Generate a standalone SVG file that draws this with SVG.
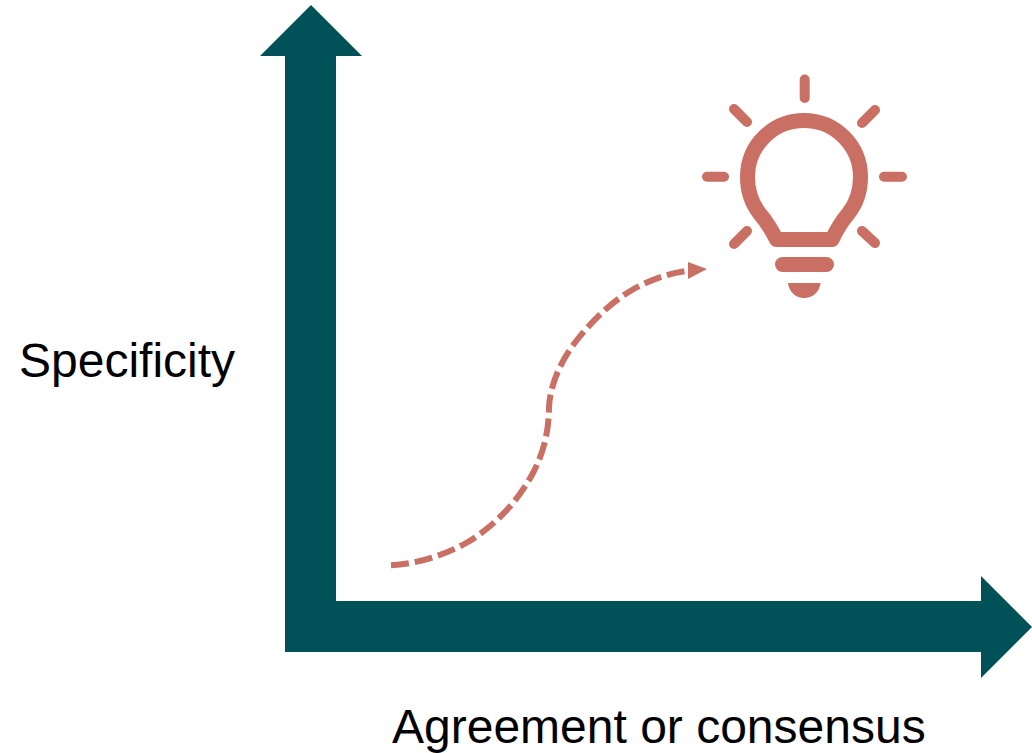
<svg xmlns="http://www.w3.org/2000/svg" width="1032" height="753" viewBox="0 0 1032 753">
<style>
.ax{fill:#005158}
.lb{font-family:"Liberation Sans",Arial,sans-serif;font-size:48px;fill:#000}
.ic{fill:none;stroke:#c96f63;stroke-linecap:round;stroke-linejoin:round}
</style>
<rect width="1032" height="753" fill="#fff"/>
<g id="connectors">
<path class="ax" d="M285 652V56H260L311 5L362 56H336V601H981V576L1032 627L981 678V652Z"/>
<path d="M391 565.300C417 564 445 555 468 542C494 526 517 503 533 473C543 454 549 432 549 407C550 385 561 360 577 340C592 321 610 303 632 290C650 280 668 273 690 270.500" fill="none" stroke="#c96f63" stroke-width="6" stroke-dasharray="18 6"/>
<path d="M707 269L688 262V279Z" fill="#c96f63"/>
</g>
<g id="bulb">
<path class="ic" stroke-width="15" d="M776.500 239.500C771 229 767 222 760 214C752 204 747.500 192 747.500 177C747.500 146 772.500 120.500 804 120.500C835.500 120.500 860.500 146 860.500 177C860.500 192 856 204 848 214C841 222 837 229 832 239.500Z"/>
<path class="ic" stroke-width="10" d="M804.700 79.500V98M734 109L747 122M875 110L862 123M707 176.700H724M884 176.700H902M747 231L734 244M862 231L875 243"/>
<path class="ic" stroke-width="15" d="M782.500 264.500H826.500"/>
<path d="M788 283H820.500C819.500 292 812.500 298 804 298C796 298 789 292 788 283Z" fill="#c96f63"/>
</g>
<g id="label-y"><text class="lb" x="19" y="377">Specificity</text></g>
<g id="label-x"><text class="lb" x="392" y="743">Agreement or consensus</text></g>
</svg>
